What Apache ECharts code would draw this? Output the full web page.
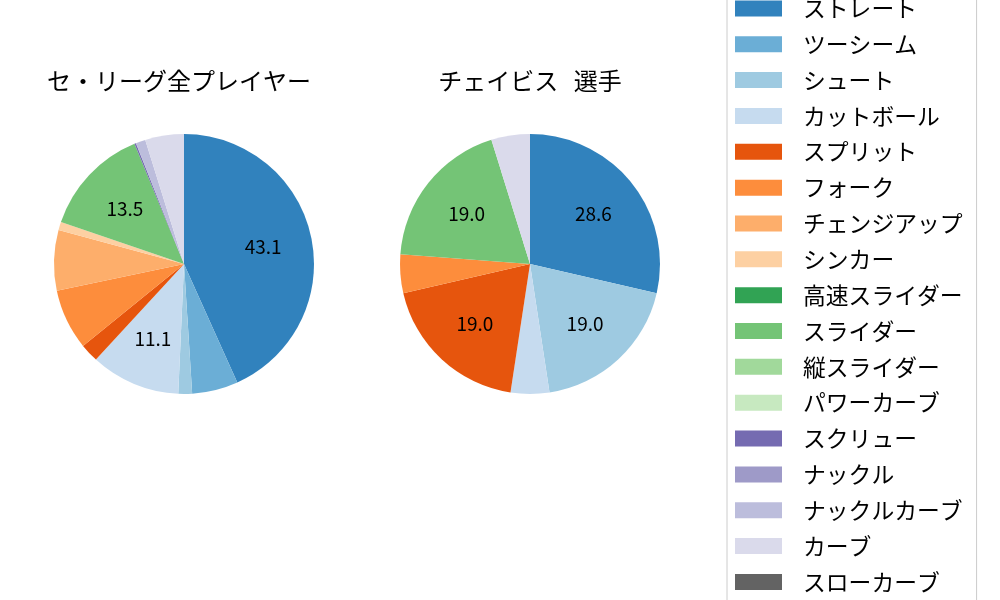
<!DOCTYPE html>
<html>
<head>
<meta charset="utf-8">
<script src="https://cdn.jsdelivr.net/npm/echarts@6/dist/echarts.min.js"></script>
<style>
html,body{margin:0;padding:0;background:#fff;}
#c{width:1000px;height:600px;}
</style>
</head>
<body>
<div id="c"></div>
<script>
const pitchTypes = ['ストレート','ツーシーム','シュート','カットボール','スプリット','フォーク','チェンジアップ','シンカー','高速スライダー','スライダー','縦スライダー','パワーカーブ','スクリュー','ナックル','ナックルカーブ','カーブ','スローカーブ'];
const pitchColors = ['#3182bd','#6baed6','#9ecae1','#c6dbef','#e6550d','#fd8d3c','#fdae6b','#fdd0a2','#31a354','#74c476','#a1d99b','#c7e9c0','#756bb1','#9e9ac8','#bcbddc','#dadaeb','#636363'];
const leagueValues = [43.1, 5.7, 1.7, 11.1, 2.3, 7.5, 7.5, 1.0, 0.0, 13.5, 0.0, 0.0, 0.2, 0.0, 1.2, 4.8, 0.0];
const playerValues = [28.6, 0.0, 19.0, 4.8, 19.0, 4.8, 0.0, 0.0, 0.0, 19.0, 0.0, 0.0, 0.0, 0.0, 0.0, 4.8, 0.0];
const titles = ['セ・リーグ全プレイヤー', 'チェイビス  選手'];

const FONT = '"Noto Sans CJK JP", "DejaVu Sans", sans-serif';
const TITLE_FONT = '"DejaVu Sans", "Noto Sans CJK JP", sans-serif';
const R = 130;
const centers = [[184, 264], [530, 264]];
const titleX = [174, 525];

function mkData(vals) {
  return pitchTypes.map((n, i) => ({ name: n, value: vals[i], itemStyle: { color: pitchColors[i] } }));
}

const series = [];
[leagueValues, playerValues].forEach((vals, k) => {
  series.push({
    type: 'pie',
    center: centers[k],
    radius: [0, R],
    startAngle: 90,
    clockwise: true,
    silent: true,
    animation: false,
    label: { show: false },
    labelLine: { show: false },
    itemStyle: { borderWidth: 0 },
    data: mkData(vals)
  });
});
[leagueValues, playerValues].forEach((vals, k) => {
  series.push({
    type: 'pie',
    center: centers[k],
    radius: [R * 0.2, R],
    startAngle: 90,
    clockwise: true,
    silent: true,
    animation: false,
    itemStyle: { color: 'rgba(0,0,0,0)', borderWidth: 0 },
    label: {
      show: true,
      position: 'inside',
      color: '#000',
      fontFamily: FONT,
      fontSize: 19,
      formatter: p => (p.value >= 10 ? p.value.toFixed(1) : '')
    },
    labelLine: { show: false },
    data: pitchTypes.map((n, i) => ({ name: n, value: vals[i] }))
  });
});

const chart = echarts.init(document.getElementById('c'), null, { renderer: 'canvas' });
chart.setOption({
  backgroundColor: '#fff',
  animation: false,
  title: titles.map((t, k) => ({
    text: t,
    left: titleX[k],
    top: 67,
    textAlign: 'center',
    textStyle: { fontFamily: TITLE_FONT, fontSize: 24, fontWeight: 'normal', color: '#000' }
  })),
  legend: {
    orient: 'vertical',
    left: 727,
    top: -14,
    height: 700,
    padding: [11, 14, 30, 8],
    itemWidth: 47,
    itemHeight: 16,
    itemGap: 13.05,
    icon: 'rect',
    borderColor: '#cccccc',
    borderWidth: 1,
    borderRadius: 3,
    selectedMode: false,
    data: pitchTypes,
    textStyle: { fontFamily: FONT, fontSize: 22.8, color: '#000', lineHeight: 22, padding: [0, 0, 0, 16] }
  },
  series: series
});
</script>
</body>
</html>
